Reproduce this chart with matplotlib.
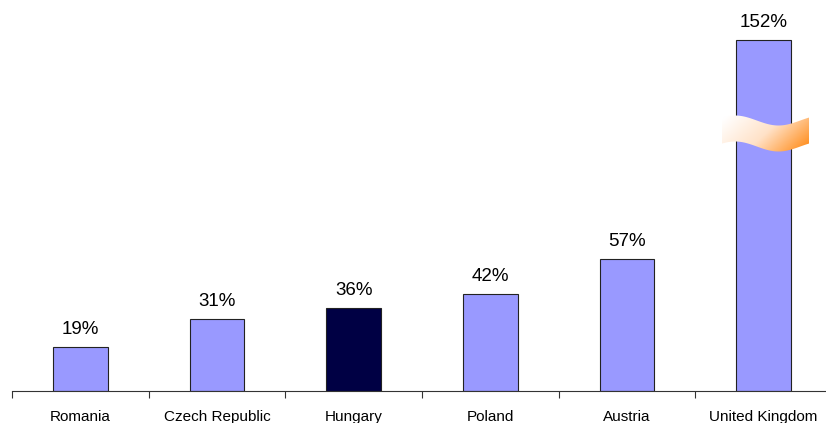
import numpy as np
import matplotlib
matplotlib.use("Agg")
import matplotlib.pyplot as plt
from matplotlib.patches import Polygon
from matplotlib.colors import LinearSegmentedColormap

categories = ["Romania", "Czech Republic", "Hungary", "Poland", "Austria", "United Kingdom"]
values = [19, 31, 36, 42, 57, 152]
labels = ["19%", "31%", "36%", "42%", "57%", "152%"]
highlight = "Hungary"

plt.rcParams['font.family'] = ['Liberation Sans', 'DejaVu Sans']

W, H = 826, 423
fig = plt.figure(figsize=(W / 100, H / 100), dpi=100)
base_px = 391
px_per_unit = 2.309
left_px, right_px = 12, 832
ax = fig.add_axes([left_px / W, (H - base_px) / H, (right_px - left_px) / W, base_px / H])
ax.set_xlim(-0.5, len(categories) - 0.5)
ax.set_ylim(0, base_px / px_per_unit)

x = np.arange(len(categories))
colors = ["#000044" if c == highlight else "#9999FF" for c in categories]
ax.bar(x, values, width=0.4, color=colors, edgecolor="#222222", linewidth=0.8, zorder=2)
for xi, v, lab in zip(x, values, labels):
    ax.text(xi, v + 4, lab, ha="center", va="bottom", fontsize=13.5, color="#000000")

for s in ["top", "right", "left"]:
    ax.spines[s].set_visible(False)
ax.spines["bottom"].set_color("#333333")
ax.spines["bottom"].set_linewidth(0.8)
ax.set_yticks([])
ax.set_xticks(np.arange(-0.5, len(categories), 1.0), minor=False)
ax.set_xticklabels([])
ax.set_xticks(x, minor=True)
ax.set_xticklabels(categories, minor=True, fontsize=11)
ax.tick_params(axis="x", which="major", length=5, width=0.8, color="#333333", direction="out")
ax.tick_params(axis="x", which="minor", length=0, pad=14)

# break symbol on the UK bar
def px2data(xp, yp):
    xd = (xp - left_px) / ((right_px - left_px) / len(categories)) - 0.5
    yd = (base_px - yp) / px_per_unit
    return xd, yd

t = np.linspace(0, 1, 60)
xp = 722 + t * 87
top = 120.5 + 5 * np.sin(2 * np.pi * (t - 0.4))
bot = top + 26
pts_top = [px2data(a, b) for a, b in zip(xp, top)]
pts_bot = [px2data(a, b) for a, b in zip(xp[::-1], bot[::-1])]
poly = Polygon(pts_top + pts_bot, closed=True, facecolor="none", edgecolor="none", zorder=3)
ax.add_patch(poly)
x0, y0 = px2data(722, 152)
x1, y1 = px2data(809, 114)
gx, gy = np.meshgrid(np.linspace(0, 1, 200), np.linspace(0, 1, 100))
grad = np.clip(0.75 * gx + 0.35 * (1 - gy) - 0.05, 0, 1)
cmap = LinearSegmentedColormap.from_list("brk", ["#FFFFFF", "#FFE2C8", "#FF8C1A"])
im = ax.imshow(grad, extent=[x0, x1, y1, y0], origin="upper", cmap=cmap, vmin=0, vmax=1,
               aspect="auto", zorder=3, interpolation="bilinear")
im.set_clip_path(poly)
ax.set_xlim(-0.5, len(categories) - 0.5)
ax.set_ylim(0, base_px / px_per_unit)

fig.savefig("out.png", dpi=100)
